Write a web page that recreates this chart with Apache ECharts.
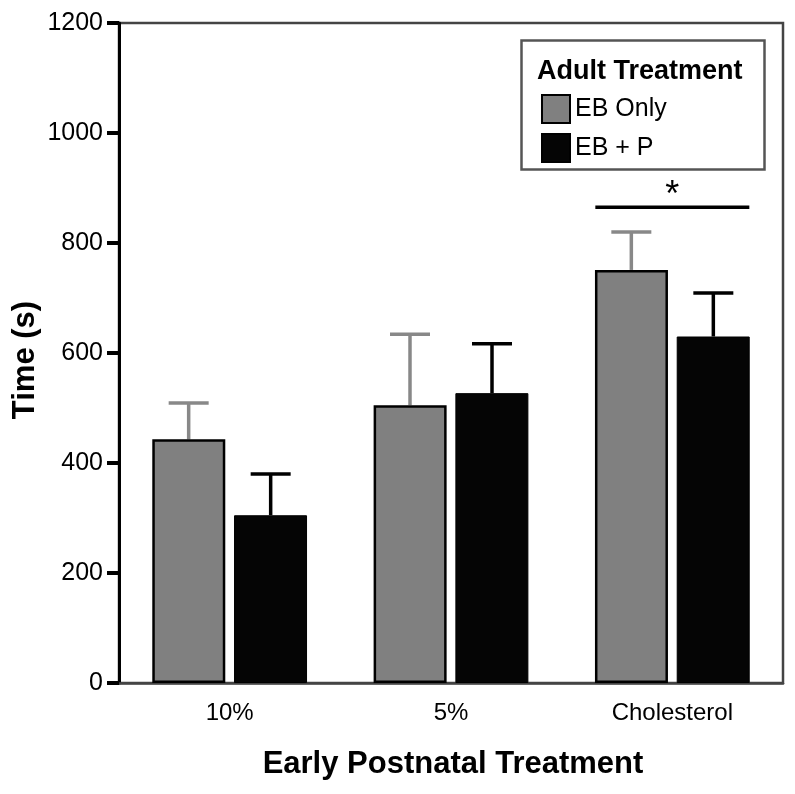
<!DOCTYPE html>
<html>
<head>
<meta charset="utf-8">
<script src="https://cdn.jsdelivr.net/npm/echarts@6/dist/echarts.min.js"></script>
<style>html,body{margin:0;padding:0;background:#fff;overflow:hidden}#c{width:795px;height:794px}</style>
</head>
<body>
<div id="c"></div>
<script>
var categories = ['10%', '5%', 'Cholesterol'];
var ebOnly = [443, 505, 751];
var ebOnlyErr = [66, 129, 69];
var ebP = [305, 527, 630];
var ebPErr = [75, 90, 79];
var yTicks = [0, 200, 400, 600, 800, 1000, 1200];
var sigCategory = 2;
var sigValue = 865;

var FONT = '"Liberation Sans", Arial, sans-serif';
var chart = echarts.init(document.getElementById('c'), null, {renderer: 'canvas'});

function errData(means, errs) {
  return means.map(function (m, i) { return [i, m, errs[i]]; });
}
function errRender(offset, color) {
  return function (params, api) {
    var base = api.coord([api.value(0), api.value(1)]);
    var top = api.coord([api.value(0), api.value(1) + api.value(2)]);
    var x = base[0] + offset;
    return {
      type: 'group',
      children: [
        {type: 'line', shape: {x1: x, y1: base[1], x2: x, y2: top[1]}, style: {stroke: color, lineWidth: 3.5}},
        {type: 'line', shape: {x1: x - 20, y1: top[1], x2: x + 20, y2: top[1]}, style: {stroke: color, lineWidth: 3.5}}
      ]
    };
  };
}

chart.setOption({
  animation: false,
  backgroundColor: '#fff',
  grid: {left: 119, right: 12, top: 23, bottom: 111, show: true, borderColor: '#444', borderWidth: 2.5},
  legend: {
    data: [{name: 'EB Only', icon: 'rect'}, {name: 'EB + P', icon: 'rect'}],
    orient: 'vertical',
    left: 536, top: 89,
    itemWidth: 28, itemHeight: 28, itemGap: 9,
    textStyle: {fontFamily: FONT, fontSize: 25, color: '#000'},
    selectedMode: false
  },
  xAxis: {
    type: 'category',
    data: categories,
    axisLine: {lineStyle: {color: '#444', width: 2.5}},
    axisTick: {alignWithLabel: true, length: 14, lineStyle: {color: '#000', width: 3.5}},
    axisLabel: {fontFamily: FONT, fontSize: 24, color: '#000', margin: 18}
  },
  yAxis: {
    type: 'value',
    min: yTicks[0], max: yTicks[yTicks.length - 1], interval: 200,
    splitLine: {show: false},
    axisLine: {show: true, lineStyle: {color: '#000', width: 3}},
    axisTick: {show: true, length: 12, lineStyle: {color: '#000', width: 4}},
    axisLabel: {fontFamily: FONT, fontSize: 25, color: '#000', margin: 16, formatter: function (v) { return String(v); }}
  },
  series: [
    {
      name: 'EB Only', type: 'bar', data: ebOnly, barWidth: 73, barGap: '12%',
      itemStyle: {color: '#808080', borderColor: '#000', borderWidth: 2.5}
    },
    {
      name: 'EB + P', type: 'bar', data: ebP, barWidth: 73,
      itemStyle: {color: '#050505', borderColor: '#000', borderWidth: 1}
    },
    {
      type: 'custom', z: 1, data: errData(ebOnly, ebOnlyErr),
      renderItem: errRender(-41, '#888')
    },
    {
      type: 'custom', z: 1, data: errData(ebP, ebPErr),
      renderItem: errRender(41, '#000')
    },
    {
      type: 'custom', data: [[sigCategory, sigValue]],
      renderItem: function (params, api) {
        var p = api.coord([api.value(0), api.value(1)]);
        return {
          type: 'group',
          children: [
            {type: 'line', shape: {x1: p[0] - 77, y1: p[1], x2: p[0] + 77, y2: p[1]}, style: {stroke: '#000', lineWidth: 3.5}},
            {type: 'text', style: {text: '*', x: p[0], y: p[1] - 11, textAlign: 'center', textVerticalAlign: 'middle', font: '36px ' + FONT, fill: '#000'}}
          ]
        };
      }
    }
  ],
  graphic: [
    {type: 'rect', left: 519, top: 38, shape: {width: 243, height: 129}, style: {fill: 'none', stroke: '#555', lineWidth: 2.5}, z: -1},
    {type: 'text', x: 537, y: 72, style: {text: 'Adult Treatment', textVerticalAlign: 'middle', font: 'bold 27px ' + FONT, fill: '#000'}},
    {type: 'text', x: 25, y: 360, rotation: Math.PI / 2, style: {text: 'Time (s)', textAlign: 'center', textVerticalAlign: 'middle', font: 'bold 31px ' + FONT, fill: '#000'}},
    {type: 'text', x: 453, y: 764, style: {text: 'Early Postnatal Treatment', textAlign: 'center', textVerticalAlign: 'middle', font: 'bold 31px ' + FONT, fill: '#000'}}
  ]
});
</script>
</body>
</html>
